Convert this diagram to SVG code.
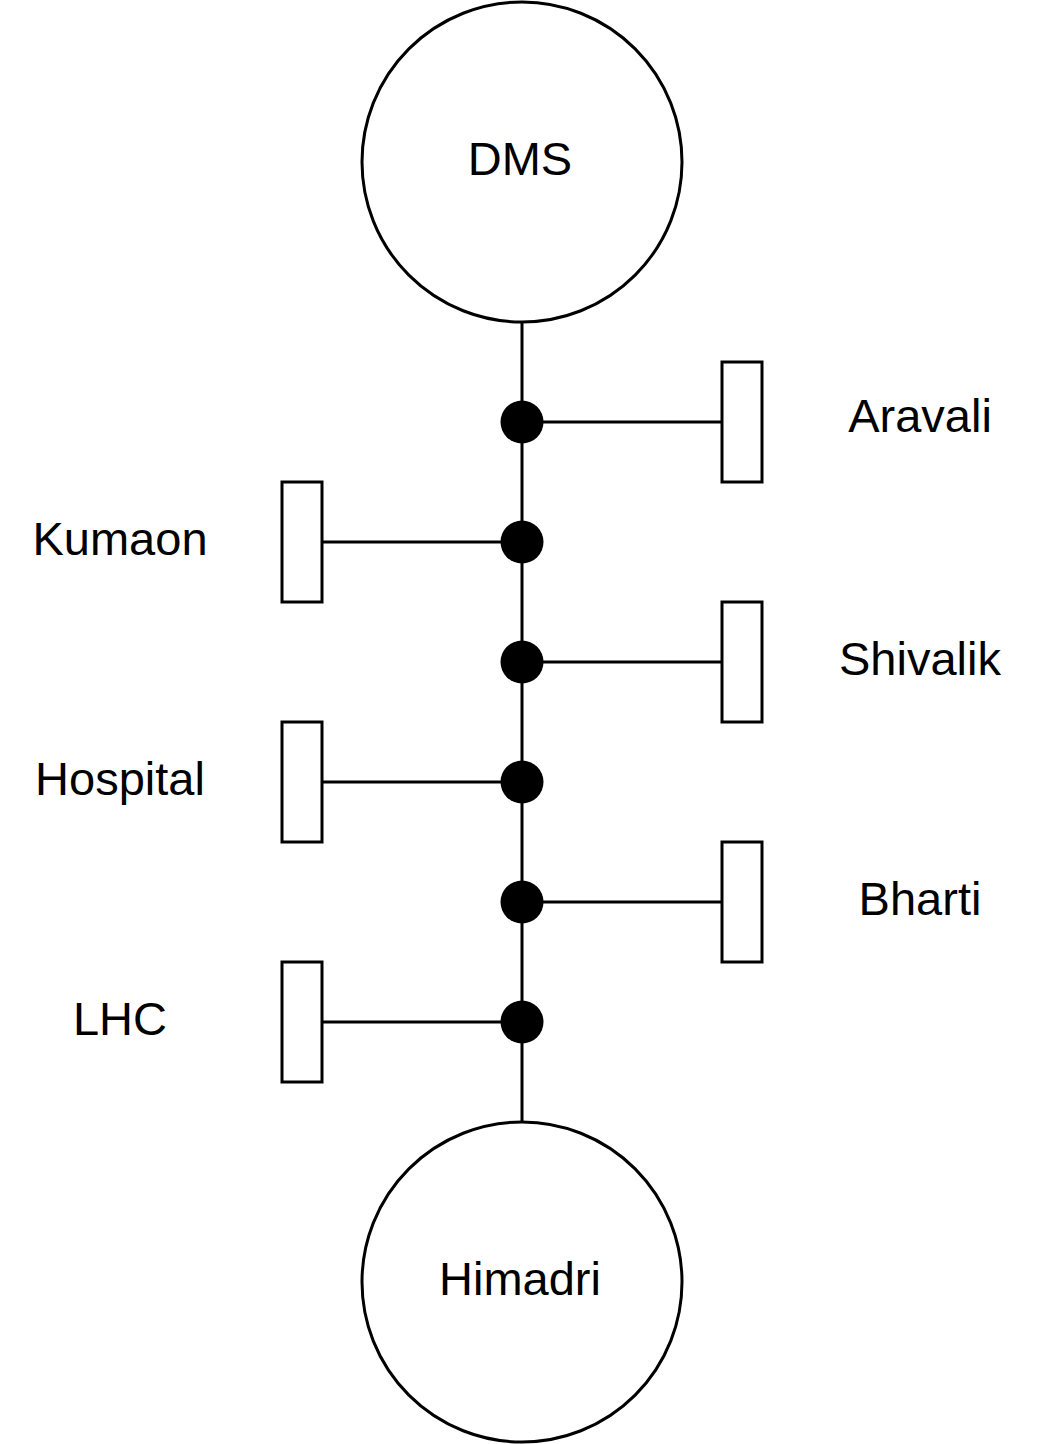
<svg xmlns="http://www.w3.org/2000/svg" width="1040" height="1444" viewBox="0 0 1040 1444">
<style>
.s{fill:none;stroke:#000;stroke-width:3}
.box{fill:#fff;stroke:#000;stroke-width:3}
.dot{fill:#000;stroke:none}
text{font-family:"Liberation Sans",Arial,sans-serif;font-size:47px;fill:#000;text-anchor:middle}
</style>
<rect width="1040" height="1444" fill="#fff"/>
<g id="connectors">
<line class="s" x1="522" y1="322" x2="522" y2="1122"/>
<line class="s" x1="522" y1="422" x2="722" y2="422"/>
<line class="s" x1="322" y1="542" x2="522" y2="542"/>
<line class="s" x1="522" y1="662" x2="722" y2="662"/>
<line class="s" x1="322" y1="782" x2="522" y2="782"/>
<line class="s" x1="522" y1="902" x2="722" y2="902"/>
<line class="s" x1="322" y1="1022" x2="522" y2="1022"/>
</g>
<g id="junctions">
<circle class="dot" cx="522" cy="422" r="21.5"/>
<circle class="dot" cx="522" cy="542" r="21.5"/>
<circle class="dot" cx="522" cy="662" r="21.5"/>
<circle class="dot" cx="522" cy="782" r="21.5"/>
<circle class="dot" cx="522" cy="902" r="21.5"/>
<circle class="dot" cx="522" cy="1022" r="21.5"/>
</g>
<g id="dms"><circle class="box" cx="522" cy="162" r="160"/><text x="520" y="175">DMS</text></g>
<g id="himadri"><circle class="box" cx="522" cy="1282" r="160"/><text x="520" y="1295">Himadri</text></g>
<g id="aravali"><rect class="box" x="722" y="362" width="40" height="120"/><text x="920" y="432">Aravali</text></g>
<g id="kumaon"><rect class="box" x="282" y="482" width="40" height="120"/><text x="120" y="555">Kumaon</text></g>
<g id="shivalik"><rect class="box" x="722" y="602" width="40" height="120"/><text x="920" y="675">Shivalik</text></g>
<g id="hospital"><rect class="box" x="282" y="722" width="40" height="120"/><text x="120" y="795">Hospital</text></g>
<g id="bharti"><rect class="box" x="722" y="842" width="40" height="120"/><text x="920" y="915">Bharti</text></g>
<g id="lhc"><rect class="box" x="282" y="962" width="40" height="120"/><text x="120" y="1035">LHC</text></g>
</svg>
